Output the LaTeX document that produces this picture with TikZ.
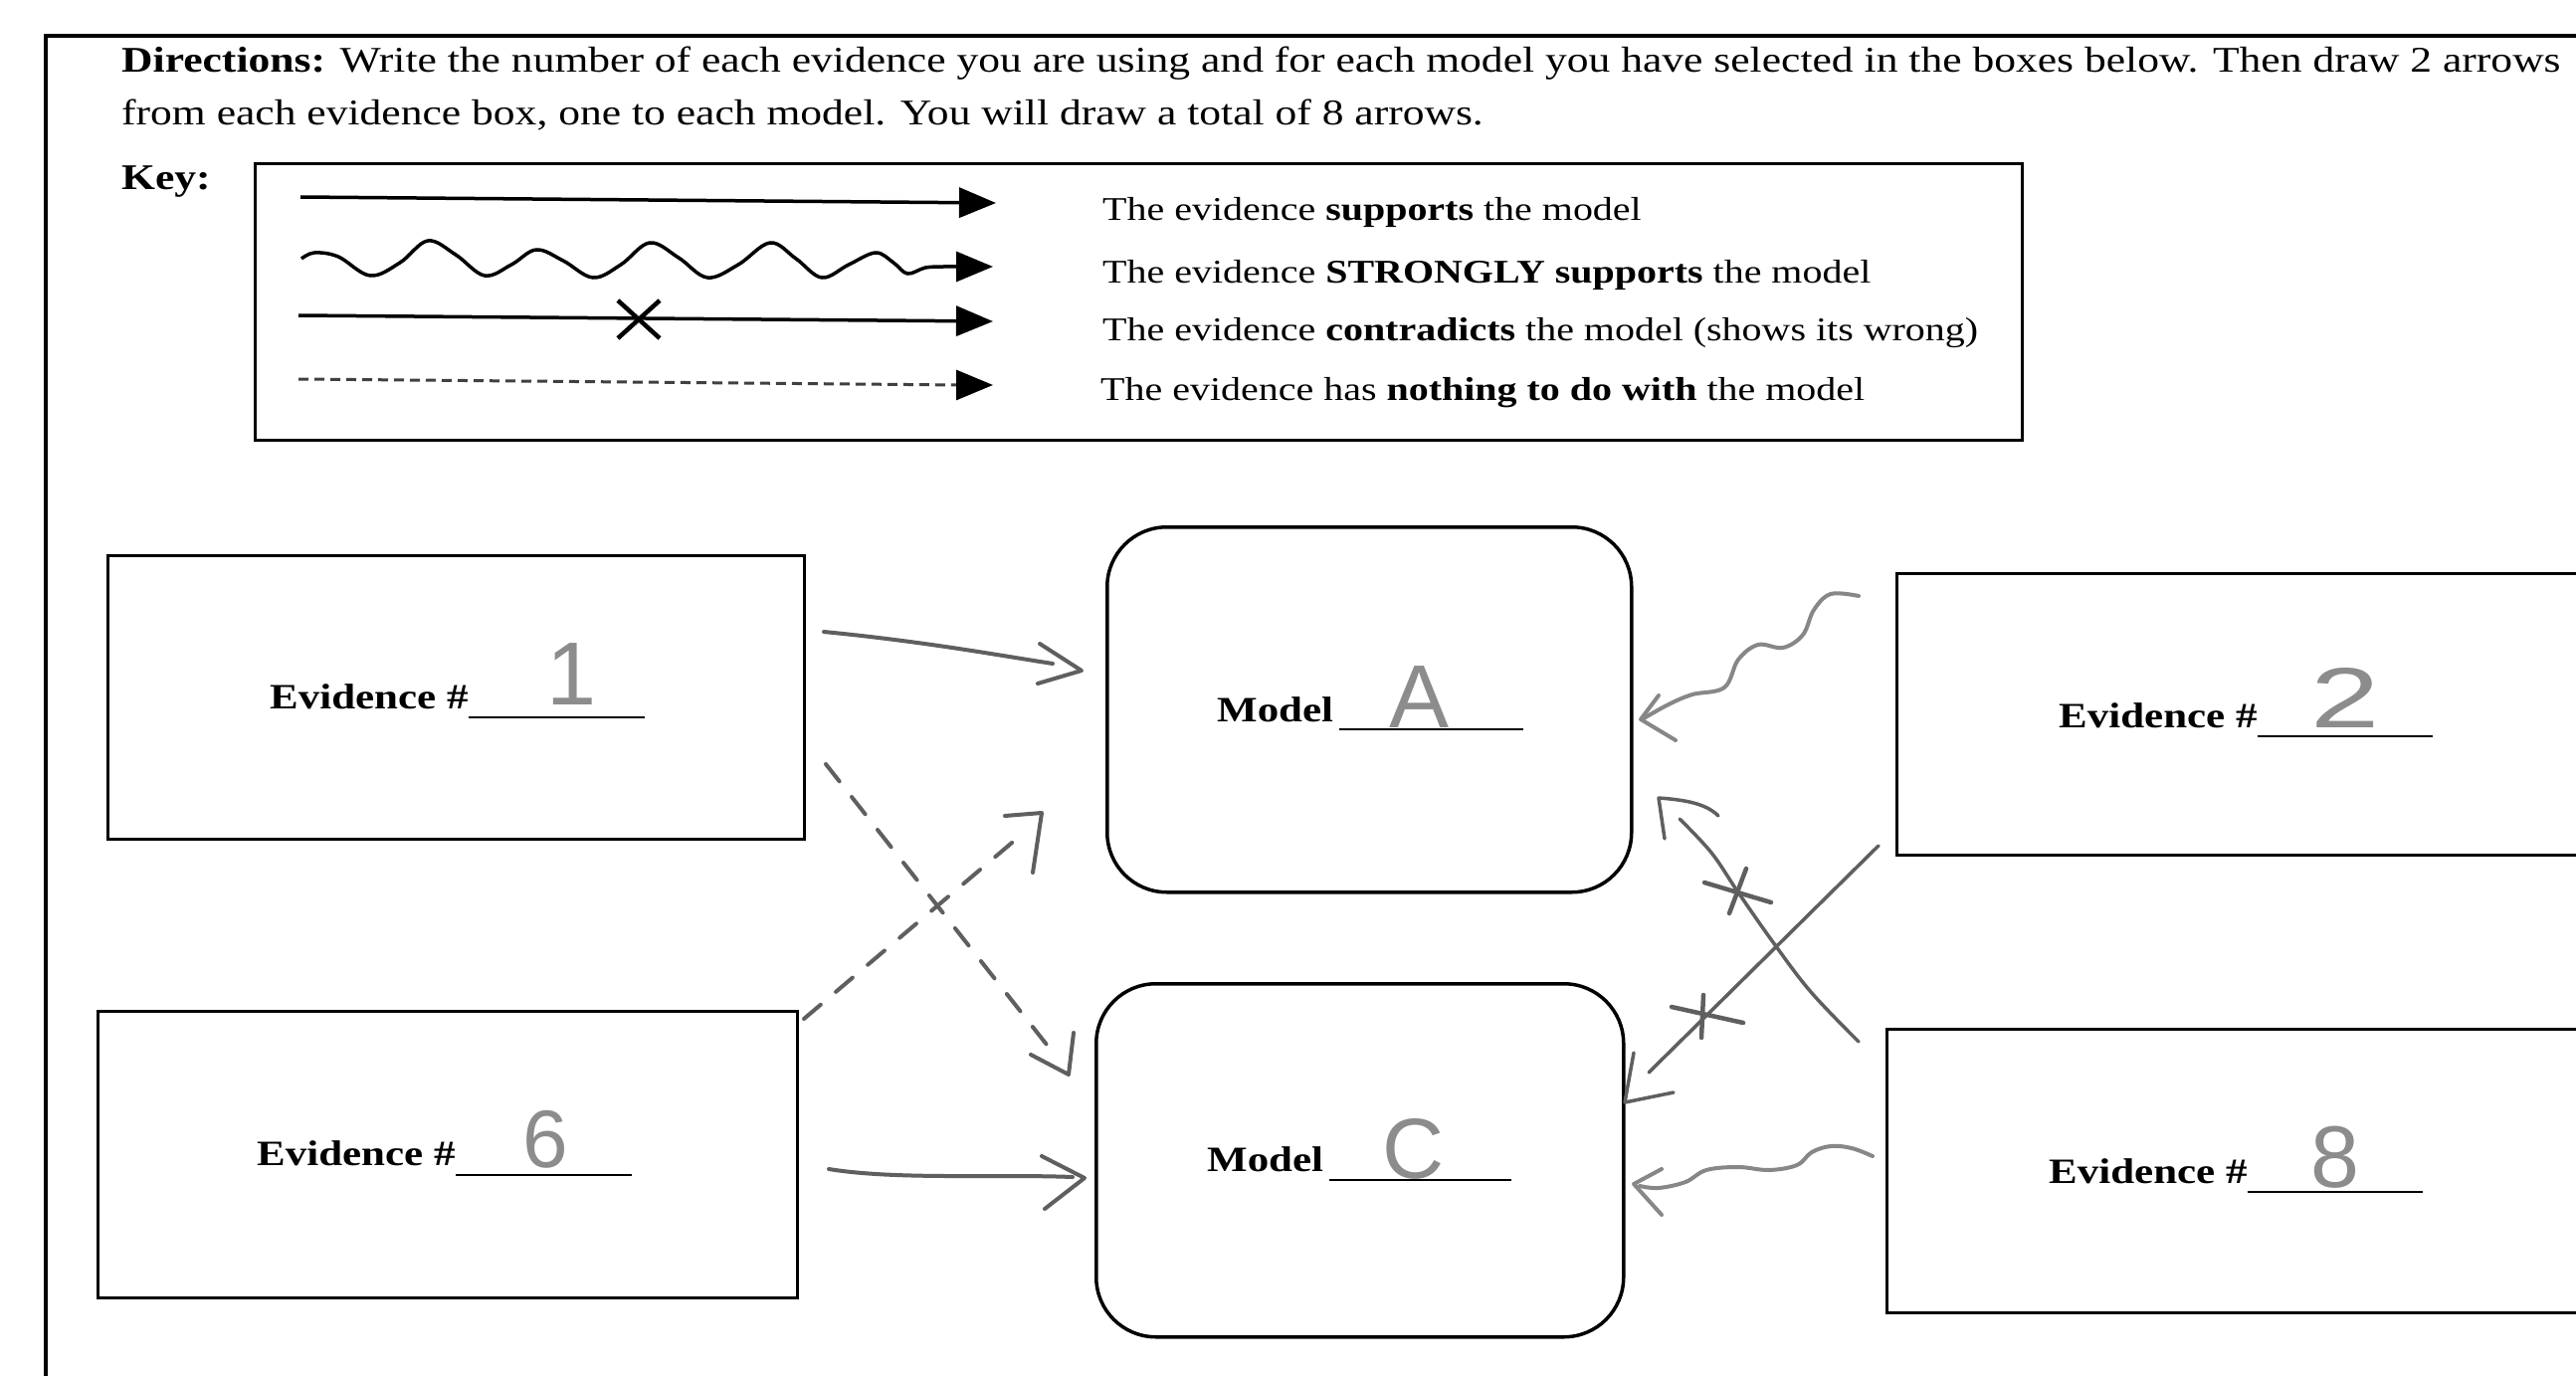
\documentclass[tikz,border=0pt]{standalone}
\usepackage{fontspec}
\setmainfont{Liberation Serif}[FakeStretch=1.2]
\newfontfamily\handfont{Liberation Sans}
\usetikzlibrary{arrows.meta,calc}
\definecolor{pencil}{RGB}{95,95,95}
\definecolor{pencilL}{RGB}{135,135,135}
\definecolor{handc}{RGB}{140,140,140}
\begin{document}
\begin{tikzpicture}[x=1pt,y=-1pt,
  txt/.style={anchor=base west, inner sep=0pt, font=\fontsize{33.3}{40}\selectfont},
  dtxt/.style={anchor=base west, inner sep=0pt, font=\fontsize{36.3}{44}\selectfont},
  lbl/.style={anchor=base west, inner sep=0pt, font=\fontsize{35.8}{44}\selectfont\bfseries},
  hw/.style={anchor=base, inner sep=0pt, text=handc, font=\handfont\fontsize{90}{90}\selectfont},
  uline/.style={line width=2.5pt},
  ebox/.style={draw, line width=3pt, inner sep=0pt, anchor=north west},
  mbox/.style={draw, line width=3.5pt, rounded corners=60pt, inner sep=0pt, anchor=north west},
  keyline/.style={line width=3.5pt, -{Triangle[length=37pt,width=30pt]}},
  pen/.style={draw=pencil, line width=4pt, line cap=round, line join=round},
  penL/.style={draw=pencilL, line width=4pt, line cap=round, line join=round},
  pendash/.style={pen, dash pattern=on 22pt off 20pt}
]
\useasboundingbox (0,0) rectangle (2589,1383);
\fill[white] (0,0) rectangle (2589,1383);
% outer frame
\draw[line width=4pt] (46,1383) -- (46,36) -- (2589,36);

% directions
\node[dtxt] (dir1) at (122,73) {\textbf{Directions:} Write the number of each evidence you are using and for each model you have selected in the boxes below. Then draw 2 arrows};
\node[dtxt] (dir2) at (122,126) {from each evidence box, one to each model. You will draw a total of 8 arrows.};
\node[dtxt] (keyt) at (122,191) {\textbf{Key:}};

% key box
\node[ebox, minimum width=1776pt, minimum height=278pt] (keybox) at (255,163) {};
\coordinate (k1s) at (302,198); \coordinate (k1e) at (1001,204);
\draw[keyline] (k1s) -- (k1e);
\coordinate (k2s) at (303,260); \coordinate (k2e) at (998,268);
\draw[line width=3.5pt, -{Triangle[length=37pt,width=30pt]}] plot[smooth, tension=0.6] coordinates {(303,260) (316,254) (340,258) (372,277) (402,264) (430,242) (458,256) (487,277) (514,266) (539,251) (566,262) (596,279) (624,266) (653,244) (682,259) (711,279) (742,266) (774,244) (800,260) (826,279) (853,266) (880,254) (898,264) (912,275) (930,269) (948,268) (962,268)} -- (k2e);
\coordinate (k3s) at (300,317); \coordinate (k3e) at (998,323);
\draw[keyline] (k3s) -- (k3e);
\coordinate (kx) at (642,321);
\draw[line width=4.5pt] (kx) ++(-21,-19) -- ++(42,38) (kx) ++(21,-19) -- ++(-42,38);
\coordinate (k4s) at (300,381); \coordinate (k4e) at (998,387);
\draw[line width=3pt, draw=black!75, dash pattern=on 10pt off 6pt] (k4s) -- ($(k4e)+(-30,0)$);
\draw[line width=3pt, -{Triangle[length=37pt,width=30pt]}] ($(k4e)+(-32,0)$) -- (k4e);

\node[txt] (kt1) at (1108,222) {The evidence \textbf{supports} the model};
\node[txt] (kt2) at (1108,284) {The evidence \textbf{STRONGLY supports} the model};
\node[txt] (kt3) at (1108,342) {The evidence \textbf{contradicts} the model (shows its wrong)};
\node[txt] (kt4) at (1106,402) {The evidence has \textbf{nothing to do with} the model};

% boxes
\node[ebox, minimum width=700pt, minimum height=285pt] (e1) at (107,557) {};
\node[ebox, minimum width=703pt, minimum height=288pt] (e6) at (97,1015) {};
\node[mbox, minimum width=527pt, minimum height=367pt] (ma) at (1111,528) {};
\node[mbox, minimum width=530pt, minimum height=355pt] (mc) at (1100,987) {};
\node[ebox, minimum width=720pt, minimum height=283pt] (e2) at (1905,575) {};
\node[ebox, minimum width=730pt, minimum height=285pt] (e8) at (1895,1033) {};

% labels
\node[lbl] (e1l) at (271,712) {Evidence \#};
\draw[uline] ([yshift=-9pt]e1l.base east) -- ++(177,0);
\node[hw] (e1n) at (575,708) {1};
\node[lbl] (e6l) at (258,1171) {Evidence \#};
\draw[uline] ([yshift=-10pt]e6l.base east) -- ++(177,0);
\node[hw, font=\handfont\fontsize{82}{82}\selectfont] (e6n) at (548,1173) {6};
\node[lbl] (mal) at (1223,725) {Model};
\draw[uline] ([yshift=-8pt]mal.base east) ++(6,0) -- ++(185,0);
\node[hw] (man) at (1426,731) {A};
\node[lbl] (mcl) at (1213,1177) {Model};
\draw[uline] ([yshift=-9pt]mcl.base east) ++(6,0) -- ++(183,0);
\node[hw, font=\handfont\fontsize{86}{86}\selectfont] (mcn) at (1421,1184) {C};
\node[lbl] (e2l) at (2069,731) {Evidence \#};
\draw[uline] ([yshift=-9pt]e2l.base east) -- ++(176,0);
\node[hw, font=\handfont\fontsize{86}{86}\selectfont] (e2n) at (2357,731) {\scalebox{1.45}[1]{2}};
\node[lbl] (e8l) at (2059,1189) {Evidence \#};
\draw[uline] ([yshift=-9pt]e8l.base east) -- ++(176,0);
\node[hw, font=\handfont\fontsize{88}{88}\selectfont] (e8n) at (2347,1193) {8};

% pencil arrows
% E1 -> A supports
\coordinate (a1s) at (828,635); \coordinate (a1t) at (1087,674);
\draw[pen] (a1s) .. controls (930,645) and (1000,658) .. (1058,667);
\draw[pen] (a1t) ++(-42,-27) -- (a1t) -- ++(-44,13);
% E1 -> C nothing
\coordinate (a2s) at (830,768); \coordinate (a2t) at (1074,1080);
\draw[pendash] (a2s) -- (1052,1050);
\draw[pen] (a2t) ++(5,-42) -- (a2t) -- ++(-38,-20);
% E6 -> A nothing
\coordinate (a3s) at (808,1024); \coordinate (a3t) at (1047,817);
\draw[pendash] (a3s) -- (1030,836);
\draw[pen] (a3t) ++(-37,3) -- (a3t) -- ++(-9,60);
% E6 -> C supports
\coordinate (a4s) at (833,1175); \coordinate (a4t) at (1090,1184);
\draw[pen] (a4s) .. controls (900,1186) and (1000,1180) .. (1078,1183);
\draw[pen] (a4t) ++(-43,-22) -- (a4t) -- ++(-40,31);
% E2 -> A strongly supports
\coordinate (a5s) at (1868,599); \coordinate (a5t) at (1649,723);
\draw[penL] plot[smooth, tension=0.6] coordinates {(1868,599) (1840,597) (1823,613) (1812,638) (1792,651) (1767,648) (1747,663) (1733,691) (1701,698) (1677,708) (1652,722)};
\draw[penL] (a5t) ++(18,-24) -- (a5t) -- ++(35,21);
% E2 -> C contradicts
\coordinate (a6s) at (1888,850); \coordinate (a6t) at (1633,1108);
\draw[pen, line width=3.5pt] (a6s) -- (1657,1078);
\draw[pen, line width=3.5pt] (a6t) ++(9,-50) -- (a6t) -- ++(49,-10);
\draw[pen, line width=4.5pt] (1680,1012) -- (1752,1028) (1712,1000) -- (1710,1043);
% E8 -> A contradicts
\coordinate (a7s) at (1868,1047); \coordinate (a7t) at (1667,802);
\draw[pen, line width=3.5pt] plot[smooth, tension=0.6] coordinates {(1868,1047) (1820,997) (1782,947) (1747,897) (1720,857) (1688,823)};
\draw[pen, line width=3.5pt] (a7t) ++(6,41) -- (a7t) .. controls (1695,804) and (1715,808) .. ++(60,18);
\draw[pen, line width=4.5pt] (1713,887) -- (1780,907) (1755,873) -- (1738,918);
% E8 -> C strongly supports
\coordinate (a8s) at (1882,1162); \coordinate (a8t) at (1642,1190);
\draw[penL] plot[smooth, tension=0.6] coordinates {(1882,1162) (1861,1154) (1840,1152) (1821,1158) (1806,1171) (1778,1176) (1747,1173) (1715,1176) (1694,1188) (1667,1194) (1648,1192)};
\draw[penL] (a8t) ++(28,-15) -- (a8t) -- ++(28,31);
\end{tikzpicture}
\end{document}
